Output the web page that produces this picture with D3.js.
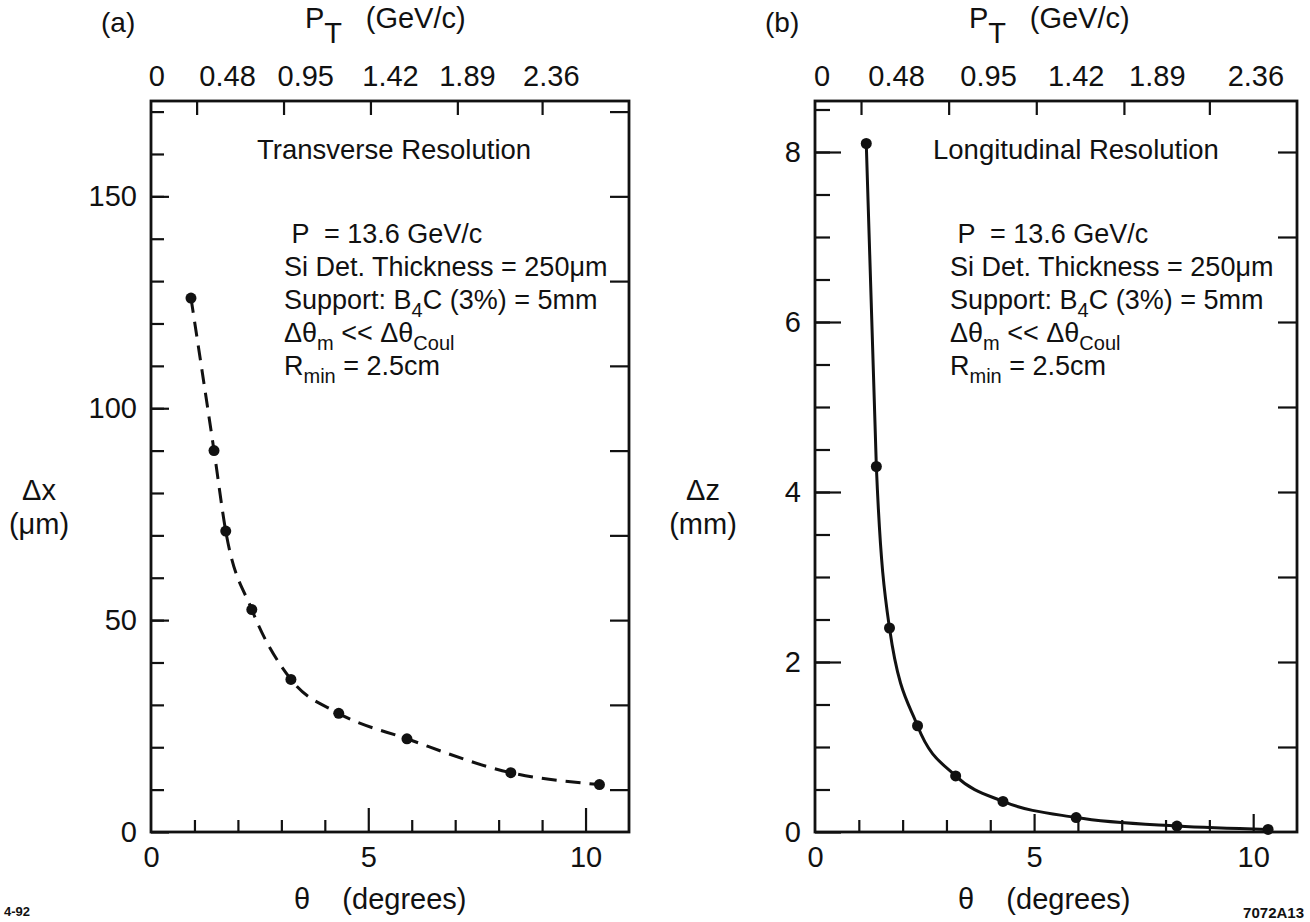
<!DOCTYPE html>
<html>
<head>
  <meta charset="UTF-8">
  <script src="https://d3js.org/d3.v7.min.js"></script>
  <title>Transverse and Longitudinal Resolution</title>
  <style type="text/css">
    html, body { margin:0; background:#fff; }
    svg text { font-family: "Liberation Sans", Arial, Helvetica, sans-serif; fill:#111; white-space: pre; }
  </style>
</head>
<body>
  <svg id="chart" width="1310" height="922"></svg>

  <script>
    // measured points, theta in degrees
    var thetaTrans = [0.92, 1.45, 1.72, 2.32, 3.22, 4.32, 5.89, 8.28, 10.32];
    var deltaX     = [126, 90, 71, 52.5, 36, 28, 22, 14, 11.2];   // um
    var thetaLong  = [1.17, 1.40, 1.70, 2.34, 3.21, 4.29, 5.96, 8.26, 10.34];
    var deltaZ     = [8.1, 4.3, 2.4, 1.25, 0.66, 0.36, 0.17, 0.07, 0.03]; // mm

    // top axis, transverse momentum
    var ptLabels = ["0", "0.48", "0.95", "1.42", "1.89", "2.36"];
    var ptLabelThetaA = [0.12, 1.75, 3.55, 5.5, 7.27, 9.2];
    var ptLabelThetaB = [0.15, 1.85, 3.95, 5.95, 7.8, 10.05];
    var ptTickTheta = [1.05, 3.05, 5.05, 7.05, 9.0];

    var thetaTicks = [0, 5, 10];
    var dxTicks = [0, 50, 100, 150];
    var dzTicks = [0, 2, 4, 6, 8];

    // text block, [string, isSubscript]
    var conditions = [
      [[" P  = 13.6 GeV/c", 0]],
      [["Si Det. Thickness = 250\u03bcm", 0]],
      [["Support: B", 0], ["4", 1], ["C (3%) = 5mm", 0]],
      [["\u0394\u03b8", 0], ["m", 1], [" << \u0394\u03b8", 0], ["Coul", 1]],
      [["R", 0], ["min", 1], [" = 2.5cm", 0]]
    ];

    var svg = d3.select("#chart");
    var frameTop = 101, frameBottom = 832;
    var ink = "#111";

    function addText(x, y, str, size, anchor) {
      return svg.append("text")
        .attr("x", x).attr("y", y)
        .attr("font-size", size)
        .attr("text-anchor", anchor || "start")
        .text(str);
    }

    function tickAxis(axis, tx, ty) {
      var g = svg.append("g")
        .attr("transform", "translate(" + tx + "," + ty + ")")
        .call(axis);
      g.select(".domain").remove();
      g.selectAll("line").attr("stroke", ink).attr("stroke-width", 2.2);
      g.selectAll("text").attr("font-size", 29).attr("fill", ink)
        .style("font-family", "'Liberation Sans', Arial, sans-serif");
      return g;
    }

    function drawPanel(p) {
      var x = d3.scaleLinear().domain([0, 11]).range([p.left, p.right]);
      var y = d3.scaleLinear().domain([0, p.yMax]).range([frameBottom, frameTop]);

      // bottom theta axis, ticks pointing in
      tickAxis(d3.axisTop(x).tickValues(d3.range(1, 11).filter(function(d) { return d % 5; }))
        .tickSize(12).tickFormat(""), 0, frameBottom);
      tickAxis(d3.axisTop(x).tickValues([5, 10]).tickSize(p.xMajor).tickFormat(""), 0, frameBottom);
      tickAxis(d3.axisBottom(x).tickValues(thetaTicks).tickSize(0).tickPadding(14)
        .tickFormat(d3.format("d")), 0, frameBottom);

      // top pT axis
      tickAxis(d3.axisBottom(x).tickValues(ptTickTheta).tickSize(14).tickFormat(""), 0, frameTop);
      tickAxis(d3.axisTop(x).tickValues(p.ptTheta).tickSize(0).tickPadding(15)
        .tickFormat(function(d, i) { return ptLabels[i]; }), 0, frameTop);

      // left y axis
      tickAxis(d3.axisRight(y).tickValues(p.yMinor).tickSize(p.yMinorLen).tickFormat(""), p.left, 0);
      tickAxis(d3.axisRight(y).tickValues(p.yTicks).tickSize(p.yMajorLen).tickFormat(""), p.left, 0);
      tickAxis(d3.axisLeft(y).tickValues(p.yTicks).tickSize(0).tickPadding(14)
        .tickFormat(d3.format("d")), p.left, 0);

      // right side ticks
      tickAxis(d3.axisLeft(y).tickValues(p.yRight).tickSize(19).tickFormat(""), p.right, 0);

      // frame
      svg.append("rect")
        .attr("x", p.left).attr("y", frameTop)
        .attr("width", p.right - p.left).attr("height", frameBottom - frameTop)
        .attr("fill", "none").attr("stroke", ink).attr("stroke-width", 2.8);

      // curve through points
      var pts = p.theta.map(function(t, i) { return [t, p.values[i]]; });
      var line = d3.line()
        .x(function(d) { return x(d[0]); })
        .y(function(d) { return y(d[1]); })
        .curve(d3.curveMonotoneX);
      svg.append("path")
        .datum(pts)
        .attr("d", line)
        .attr("fill", "none")
        .attr("stroke", ink)
        .attr("stroke-width", 3)
        .attr("stroke-dasharray", p.dash || null);

      svg.append("g").selectAll("circle")
        .data(pts)
        .enter()
        .append("circle")
        .attr("cx", function(d) { return x(d[0]); })
        .attr("cy", function(d) { return y(d[1]); })
        .attr("r", 5.5)
        .attr("fill", ink);

      // titles
      addText(p.left - 50, 32, p.tag, 28);
      var pt = svg.append("text").attr("x", p.left + 154).attr("y", 28).attr("font-size", 29);
      pt.append("tspan").text("P");
      pt.append("tspan").attr("dy", 15).text("T");
      pt.append("tspan").attr("dy", -15).text("   (GeV/c)");

      svg.append("text").attr("x", p.left + 143).attr("y", 909).attr("font-size", 29)
        .text("\u03b8    (degrees)");

      addText(p.left - 112, 500, p.yName, 29, "middle");
      addText(p.left - 112, 534, p.yUnit, 29, "middle");

      addText(p.headX, 159, p.heading, 27.5);
      conditions.forEach(function(parts, k) {
        var t = svg.append("text")
          .attr("x", p.noteX).attr("y", 243 + k * 33)
          .attr("font-size", 27);
        var sub = 0;
        parts.forEach(function(s) {
          var shift = s[1] ? 8 : 0;
          t.append("tspan")
            .attr("dy", shift - sub)
            .attr("font-size", s[1] ? 20 : 27)
            .text(s[0]);
          sub = shift;
        });
      });
    }

    drawPanel({
      tag: "(a)", left: 151, right: 629, yMax: 172.5,
      theta: thetaTrans, values: deltaX, dash: "15,9",
      yTicks: dxTicks, yMinor: d3.range(10, 171, 10), yRight: d3.range(10, 171, 20),
      yMinorLen: 13, yMajorLen: 18, xMajor: 24,
      ptTheta: ptLabelThetaA,
      yName: "\u0394x", yUnit: "(\u03bcm)",
      heading: "Transverse Resolution", headX: 257, noteX: 284
    });

    drawPanel({
      tag: "(b)", left: 815, right: 1297, yMax: 8.6,
      theta: thetaLong, values: deltaZ,
      yTicks: dzTicks, yMinor: d3.range(0.5, 8.6, 0.5), yRight: d3.range(1, 8.1, 1),
      yMinorLen: 15, yMajorLen: 26, xMajor: 18,
      ptTheta: ptLabelThetaB,
      yName: "\u0394z", yUnit: "(mm)",
      heading: "Longitudinal Resolution", headX: 933, noteX: 950
    });

    // figure codes
    svg.append("text").attr("x", 4).attr("y", 916).attr("font-size", 13)
      .attr("font-weight", "bold").text("4-92");
    svg.append("text").attr("x", 1304).attr("y", 918).attr("font-size", 15)
      .attr("font-weight", "bold").attr("text-anchor", "end").text("7072A13");
  </script>
</body>
</html>
